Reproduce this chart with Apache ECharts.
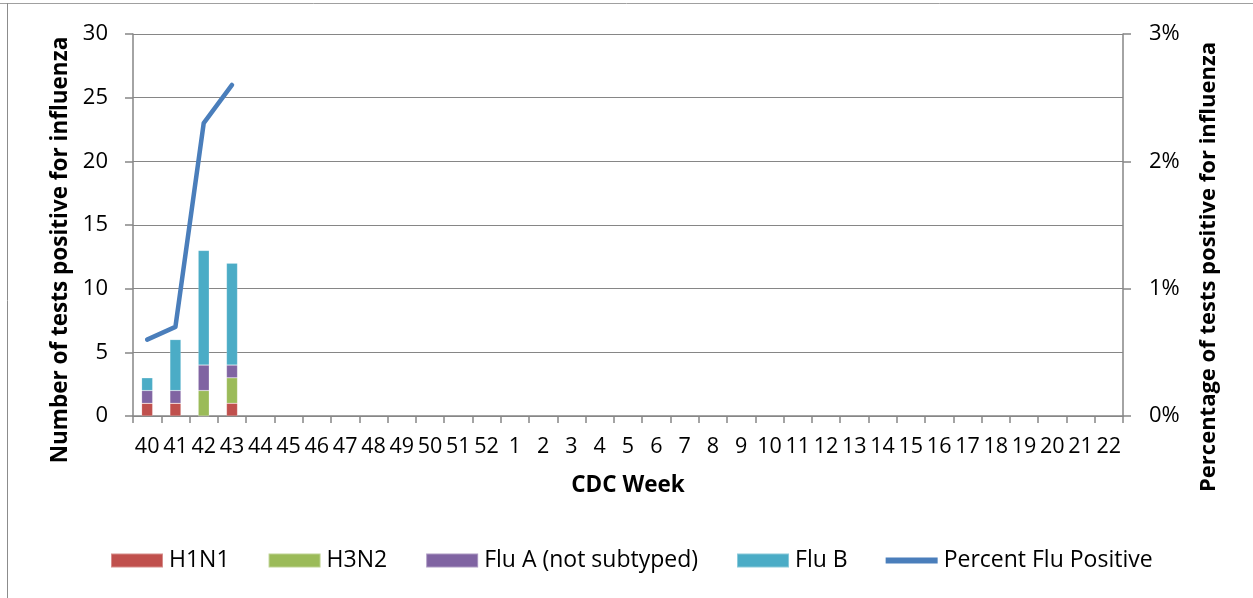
<!DOCTYPE html>
<html><head><meta charset="utf-8">
<script src="https://cdn.jsdelivr.net/npm/echarts@6/dist/echarts.min.js"></script>
<style>html,body{margin:0;padding:0;background:#fff}#c{width:1253px;height:598px}</style>
</head><body><div id="c"></div>
<script>
const weeks = ['40','41','42','43','44','45','46','47','48','49','50','51','52','1','2','3','4','5','6','7','8','9','10','11','12','13','14','15','16','17','18','19','20','21','22'];
const h1n1 = [1, 1, 0, 1];
const h3n2 = [0, 0, 2, 2];
const fluA = [1, 1, 2, 1];
const fluB = [1, 4, 9, 8];
const pctPositive = [0.6, 0.7, 2.3, 2.6];
const leftTicks = [0, 5, 10, 15, 20, 25, 30];
const rightTicks = [0, 1, 2, 3];

const FONT = 'Open Sans';
const chart = echarts.init(document.getElementById('c'));
const barSeries = (name, data, color) => ({
  name, type: 'bar', stack: 'flu', data, barWidth: 11, yAxisIndex: 0,
  itemStyle: { color, borderColor: 'rgba(255,255,255,0.35)', borderWidth: 0.5 },
  emphasis: { disabled: true }
});
chart.setOption({
  animation: false,
  textStyle: { fontFamily: FONT },
  grid: { left: 133, right: 130, top: 34, bottom: 182, containLabel: false, outerBoundsMode: 'none' },
  graphic: [
    { type: 'line', shape: { x1: 0, y1: 3.5, x2: 1253, y2: 3.5 }, style: { stroke: '#a0a0a0', lineWidth: 1 } },
    { type: 'line', shape: { x1: 7.5, y1: 3, x2: 7.5, y2: 598 }, style: { stroke: '#8c8c8c', lineWidth: 1 } }
  ],
  legend: {
    left: 110, top: 549, padding: 0, itemWidth: 52, itemHeight: 14, itemGap: 38,
    textStyle: { fontFamily: FONT, fontSize: 23, color: '#000', padding: [0, 0, 0, 1] },
    data: [
      { name: 'H1N1', icon: 'rect' },
      { name: 'H3N2', icon: 'rect' },
      { name: 'Flu A (not subtyped)', icon: 'rect' },
      { name: 'Flu B', icon: 'rect' },
      { name: 'Percent Flu Positive', icon: 'path://M0,0 L52,0 L52,6 L0,6 Z' }
    ]
  },
  xAxis: {
    type: 'category', data: weeks,
    name: 'CDC Week', nameLocation: 'middle', nameGap: 58,
    nameTextStyle: { fontFamily: FONT, fontSize: 22.5, fontWeight: 'bold', color: '#000' },
    axisLine: { lineStyle: { color: '#868686', width: 1.5 } },
    axisTick: { show: true, length: 7, alignWithLabel: false, lineStyle: { color: '#868686', width: 1.5 } },
    axisLabel: { fontFamily: FONT, fontSize: 21.5, color: '#000', margin: 20, interval: 0 }
  },
  yAxis: [
    {
      type: 'value', min: 0, max: 30, interval: 5,
      name: 'Number of tests positive for influenza', nameLocation: 'middle', nameGap: 58, nameRotate: 90,
      nameTextStyle: { fontFamily: FONT, fontSize: 22.5, fontWeight: 'bold', color: '#000', padding: [0, 50, 0, 0] },
      axisLine: { show: true, lineStyle: { color: '#868686', width: 1.5 } },
      axisTick: { show: true, length: 8, lineStyle: { color: '#868686', width: 1.5 } },
      splitLine: { lineStyle: { color: '#868686', width: 1.2 } },
      axisLabel: { fontFamily: FONT, fontSize: 22, color: '#000', margin: 25,
        formatter: v => leftTicks.includes(v) ? String(v) : '' }
    },
    {
      type: 'value', min: 0, max: 3, interval: 1, position: 'right',
      name: 'Percentage of tests positive for influenza', nameLocation: 'middle', nameGap: 75, nameRotate: 90,
      nameTextStyle: { fontFamily: FONT, fontSize: 22, fontWeight: 'bold', color: '#000', padding: [0, 84, 0, 0] },
      axisLine: { show: true, lineStyle: { color: '#868686', width: 1.5 } },
      axisTick: { show: true, length: 8, lineStyle: { color: '#868686', width: 1.5 } },
      splitLine: { show: false },
      axisLabel: { fontFamily: FONT, fontSize: 22, color: '#000', margin: 26,
        formatter: v => rightTicks.includes(v) ? v + '%' : '' }
    }
  ],
  series: [
    barSeries('H1N1', h1n1, '#c0504d'),
    barSeries('H3N2', h3n2, '#9bbb59'),
    barSeries('Flu A (not subtyped)', fluA, '#8064a2'),
    barSeries('Flu B', fluB, '#4bacc6'),
    {
      name: 'Percent Flu Positive', type: 'line', yAxisIndex: 1, data: pctPositive,
      symbol: 'none', itemStyle: { color: '#4a7ebb' },
      lineStyle: { color: '#4a7ebb', width: 4.5, cap: 'round', join: 'round' },
      emphasis: { disabled: true }, z: 5
    }
  ]
});
</script></body></html>
